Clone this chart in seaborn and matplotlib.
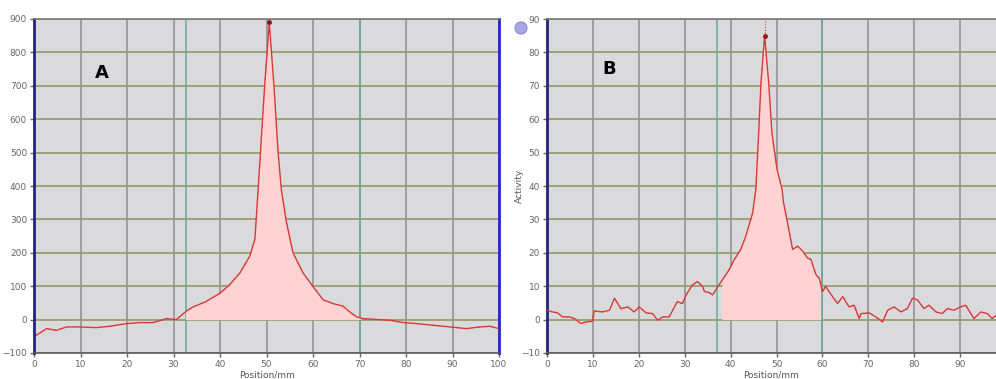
import numpy as np
import pandas as pd
import seaborn as sns
import matplotlib
matplotlib.use("Agg")
import matplotlib.pyplot as plt
from matplotlib.patches import Ellipse

# Profile A: activity along the strip
pos_a = [0.5, 2.7, 4.8, 7.0, 9.8, 13.4, 16.3, 19.9, 22.7, 25.6, 28.5, 30.6, 31.7, 32.8,
         34.2, 37.0, 40.0, 42.1, 44.3, 46.4, 47.5, 48.2, 48.7, 49.6, 50.6, 51.6, 52.5,
         53.2, 54.3, 55.7, 57.9, 60.0, 62.2, 64.3, 66.5, 67.9, 69.4, 70.8, 73.0, 76.5,
         79.4, 82.3, 85.9, 89.5, 93.0, 95.9, 98.0, 100.0]
act_a = [-47, -27, -32, -22, -22, -24, -20, -12, -9, -9, 3, 0, 13, 26,
         38, 54, 79, 105, 140, 190, 240, 388, 500, 700, 890, 700, 500,
         388, 291, 200, 139, 99, 59, 48, 40, 23, 8, 3, 1, -2,
         -9, -12, -17, -22, -27, -22, -20, -27]
roi_a = (32.6, 70.2)

# Profile B: activity along the strip
pos_b = [0.0, 1.2, 2.3, 3.4, 4.9, 6.0, 7.4, 8.5, 9.9, 10.3, 12.1, 13.6, 14.7, 16.1,
         17.6, 19.0, 20.1, 21.6, 23.0, 24.1, 25.2, 26.6, 28.4, 29.5, 30.3, 31.7, 32.8,
         33.9, 34.3, 35.3, 36.1, 37.2, 38.2, 39.7, 40.8, 42.2, 43.3, 44.8, 45.5, 46.1,
         46.6, 47.4, 48.3, 49.0, 50.1, 51.2, 51.5, 52.4, 53.5, 54.6, 55.7, 56.7, 57.5,
         58.6, 59.3, 60.0, 60.7, 62.2, 63.3, 64.4, 65.8, 66.9, 68.0, 68.4, 70.2, 71.6,
         73.1, 74.2, 75.6, 77.1, 78.5, 79.6, 80.7, 82.1, 83.2, 84.7, 86.1, 87.2, 88.6,
         90.1, 91.2, 93.0, 94.5, 95.9, 97.0, 97.8]
act_b = [2.8, 2.3, 2.0, 0.8, 0.8, 0.3, -1.2, -0.7, -0.5, 2.6, 2.3, 2.8, 6.4, 3.3,
         3.8, 2.3, 3.8, 2.0, 1.8, -0.2, 0.8, 0.8, 5.4, 4.8, 7.4, 10.4, 11.4,
         9.9, 8.4, 8.1, 7.4, 9.9, 11.9, 15.0, 18.0, 21.0, 25.0, 32.0, 39.2, 55.8,
         70.7, 85.0, 70.7, 55.8, 45.0, 39.0, 35.2, 29.0, 21.0, 22.0, 20.5, 18.5, 18.0,
         13.4, 12.4, 8.4, 9.9, 6.9, 4.8, 6.9, 3.8, 4.3, 0.3, 1.8, 2.0, 0.8,
         -0.7, 2.8, 3.8, 2.3, 3.3, 6.4, 5.9, 3.3, 4.3, 2.3, 1.8, 3.3, 2.8,
         3.8, 4.3, 0.3, 2.3, 1.8, 0.3, 1.3]
roi_b = (37.0, 59.9)
fill_b = (38.1, 59.6)

sns.set_theme(style="white")
plt.rcParams["font.family"] = ["DejaVu Sans"]

W, H = 996, 379
fig = plt.figure(figsize=(W / 100, H / 100), dpi=100)
fig.patch.set_facecolor("white")

bottom = 1 - 353 / H
height = (353 - 19) / H
ax_a = fig.add_axes([34 / W, bottom, (499 - 34) / W, height])
ax_b = fig.add_axes([547 / W, bottom, (996 - 547) / W, height])

BG = "#dadadd"
VGRID = "#8e8e8e"
HGRID = "#9c9a6c"
TEAL = "#6aa89c"
LINE = "#e0393a"
FILL = "#ffd3d1"
TICKC = "#666666"


def style_axes(ax, xlim, ylim, xticks, yticks):
    ax.set_facecolor(BG)
    ax.set_xlim(*xlim)
    ax.set_ylim(*ylim)
    ax.set_xticks(xticks)
    ax.set_yticks(yticks)
    for x in xticks:
        ax.axvline(x, color=VGRID, lw=1.1, zorder=0.5)
    for y in yticks:
        ax.axhline(y, color=HGRID, lw=1.3, zorder=0.5)
    ax.tick_params(axis="both", labelsize=6.5, colors=TICKC, length=3, width=1,
                   direction="out", pad=2)
    ax.tick_params(axis="x", bottom=True)
    ax.tick_params(axis="y", left=True)
    ax.spines["left"].set_color("#23237a")
    ax.spines["left"].set_linewidth(2.0)
    ax.spines["bottom"].set_color("#5a5a5a")
    ax.spines["bottom"].set_linewidth(1.2)
    ax.spines["top"].set_color("#7a7a7a")
    ax.spines["top"].set_linewidth(1.2)
    ax.set_xlabel("Position/mm", fontsize=6.5, color="#555555", labelpad=1)


def draw_profile(ax, pos, act, roi, span):
    df = pd.DataFrame({"pos": pos, "act": act})
    for x in roi:
        ax.axvline(x, color=TEAL, lw=1.1, zorder=0.8)
    xs = np.array(pos)
    ys = np.array(act)
    grid = np.linspace(span[0], span[1], 400)
    fill_y = np.interp(grid, xs, ys)
    ax.fill_between(grid, 0, fill_y, color=FILL, lw=0, zorder=1)
    sns.lineplot(data=df, x="pos", y="act", ax=ax, color=LINE, lw=1.0, zorder=3,
                 estimator=None, sort=False)
    # dark dashed trace running along the curve
    sns.lineplot(data=df, x="pos", y="act", ax=ax, color="#8a2020", lw=0.6, zorder=3.5,
                 estimator=None, sort=False, alpha=0.35, dashes=(2, 6))
    ipk = int(np.argmax(ys))
    ax.plot([xs[ipk]], [ys[ipk]], marker="o", ms=2.5, color="#8a1a1a", zorder=4)
    return xs[ipk], ys[ipk]


# Panel A
style_axes(ax_a, (0, 100), (-100, 900), list(range(0, 101, 10)), list(range(-100, 901, 100)))
draw_profile(ax_a, pos_a, act_a, roi_a, roi_a)
ax_a.spines["right"].set_color("#2626c8")
ax_a.spines["right"].set_linewidth(2.0)
ax_a.set_ylabel("")
ax_a.text(14.6, 738, "A", fontsize=13, fontweight="bold", color="black",
          ha="center", va="center")

# Panel B
style_axes(ax_b, (0, 97.8), (-10, 90), list(range(0, 91, 10)), list(range(-10, 91, 10)))
pk_x, pk_y = draw_profile(ax_b, pos_b, act_b, roi_b, fill_b)
ax_b.plot([pk_x, pk_x], [pk_y, 90], color="#c04040", lw=0.8, ls=(0, (1, 1.5)), zorder=4)
ax_b.spines["right"].set_visible(False)
ax_b.set_ylabel("Activity", fontsize=6.5, color="#555555")
ax_b.yaxis.set_label_coords(-0.052, 0.5)
ax_b.text(13.5, 75, "B", fontsize=13, fontweight="bold", color="black",
          ha="center", va="center")

# info badge beside panel B
fig.patches.append(Ellipse((521 / W, 1 - 28 / H), 12 / W, 12 / H,
                           transform=fig.transFigure, facecolor="#a9a6e6",
                           edgecolor="#8c88d8", lw=0.8, zorder=5))

fig.savefig("out.png", dpi=100)
